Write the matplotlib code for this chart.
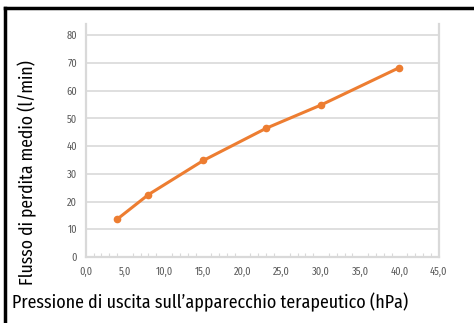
import matplotlib.pyplot as plt
from matplotlib.lines import Line2D
from matplotlib.ticker import MultipleLocator, FuncFormatter

# Pressure at the device outlet (hPa) and mean leak flow (l/min)
pressione = [4, 8, 15, 23, 30, 40]
flusso = [13.6, 22.5, 34.8, 46.4, 54.8, 68.3]

x_ticks = [0, 5, 10, 15, 20, 25, 30, 35, 40, 45]
y_ticks = [0, 10, 20, 30, 40, 50, 60, 70, 80]

plt.rcParams['font.family'] = ['Fira Sans Condensed', 'DejaVu Sans']

W, H = 474, 323
fig = plt.figure(figsize=(W / 100, H / 100), dpi=100)
ax = fig.add_axes([85.7 / W, 1 - 257 / H, (438.7 - 85.7) / W, (257 - 24) / H])

grid_col = '#d9d9d9'
ax.plot(pressione, flusso, color='#ED7D31', linewidth=2.2, marker='o', markersize=4.5, zorder=3)

ax.set_xlim(0, 45)
ax.set_ylim(0, 84)
ax.set_xticks(x_ticks)
ax.set_yticks(y_ticks)
ax.xaxis.set_major_formatter(FuncFormatter(lambda v, p: f'{v:.1f}'.replace('.', ',')))
ax.xaxis.set_minor_locator(MultipleLocator(1))
ax.tick_params(axis='both', which='major', length=0, labelsize=7.5, labelcolor='#595959')
ax.tick_params(axis='x', pad=7)
ax.tick_params(axis='y', pad=6)
ax.tick_params(axis='x', which='minor', direction='in', length=3, color=grid_col, width=0.8)

ax.grid(axis='y', color=grid_col, linewidth=1.2)
for side in ['left', 'right', 'bottom']:
    ax.spines[side].set_color(grid_col)
    ax.spines[side].set_linewidth(1.6)
ax.spines['top'].set_visible(False)

ylab = fig.text(27 / W, 1 - 173 / H, 'Flusso di perdita medio (l/min)', rotation=90,
                ha='center', va='center', fontsize=14, color='black')
xlab = fig.text(12 / W, 1 - 302 / H, 'Pressione di uscita sull\u2019apparecchio terapeutico (hPa)',
                ha='left', va='center', fontsize=14, color='black')

# fit the axis titles to their lengths
fig.canvas.draw()
r = fig.canvas.get_renderer()
xw = xlab.get_window_extent(r).width
xlab.set_fontsize(14 * 396 / xw)
yh = ylab.get_window_extent(r).height
ylab.set_fontsize(14 * 226 / yh)

# frame around the figure
fig.add_artist(Line2D([5 / W, 5 / W], [0, 1 - 8 / H], color='black', linewidth=2.5))
fig.add_artist(Line2D([5 / W, 1], [1 - 8 / H, 1 - 8 / H], color='black', linewidth=2.5))

fig.savefig('out.png', dpi=100)
